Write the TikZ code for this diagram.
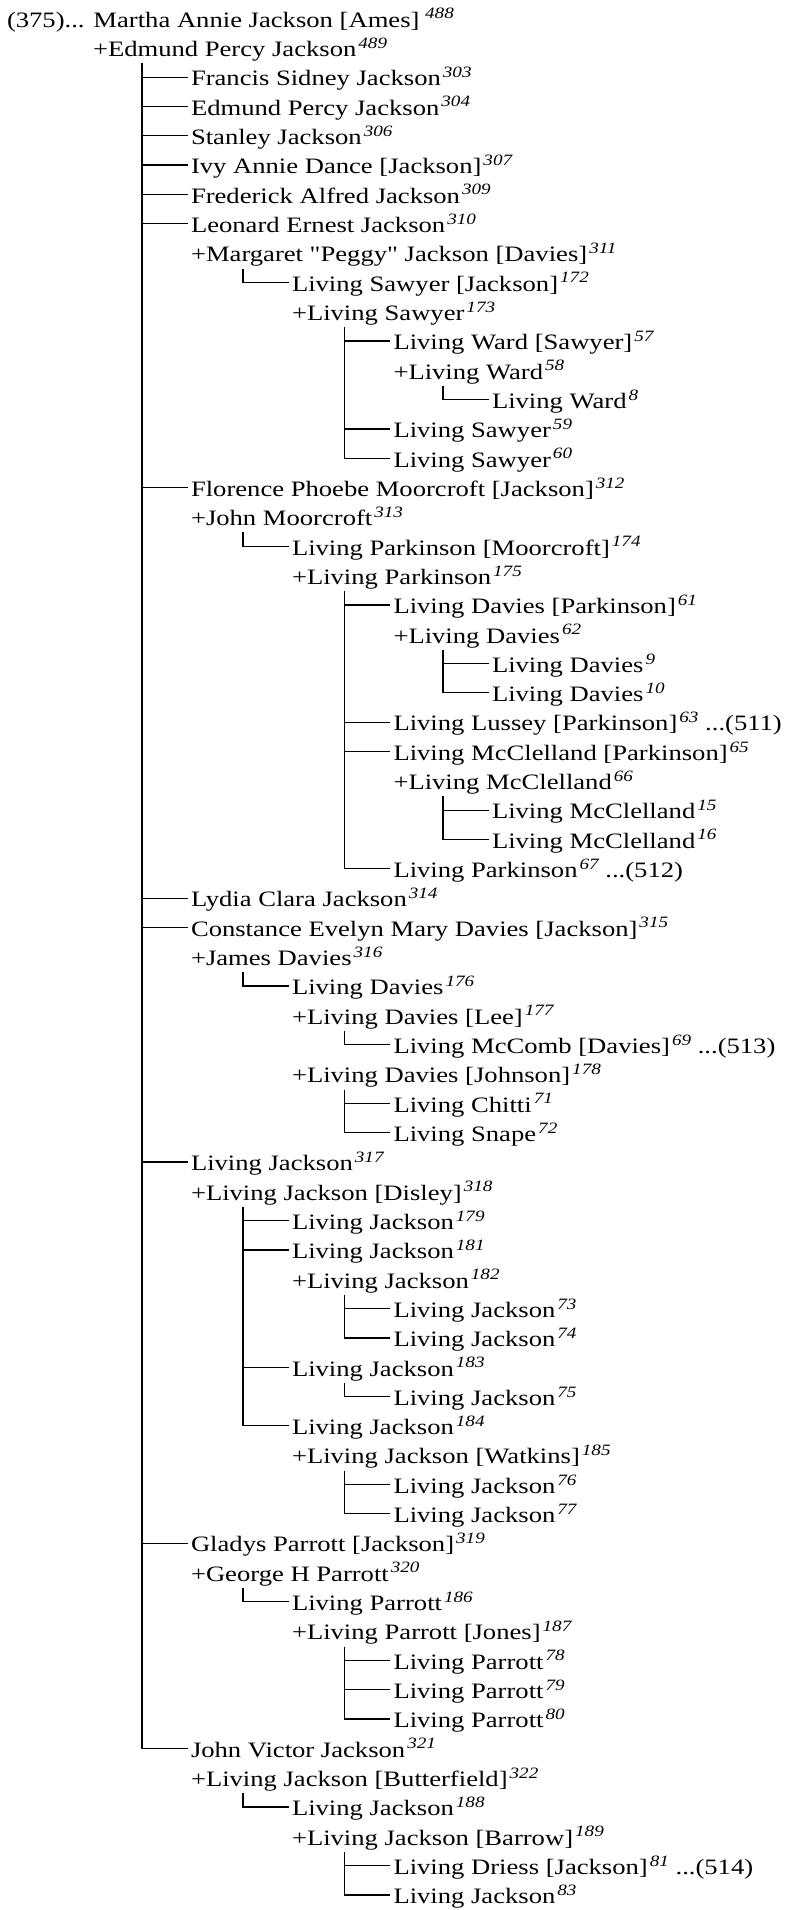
\documentclass[tikz,border=0pt]{standalone}
\usepackage{fontspec}
\setmainfont{Liberation Serif}[FakeStretch=1.21,Ligatures=TeXOff]
\usetikzlibrary{calc}
\newcommand\sr[1]{\kern1pt\raisebox{4.15pt}{\fontsize{7.9}{8}\selectfont\itshape #1}}
\newcommand\famlink[2]{\draw[conn] let \p1=(#1.base west), \p2=(#2.base west) in (\x2-24.5pt,\y1-3.35pt) |- (\x2-1.75pt,\y2+4.4pt);}
\tikzset{
 ln/.style={anchor=base west, inner sep=0pt, outer sep=0pt, font=\fontsize{11}{13}\selectfont},
 conn/.style={line width=0.6pt, black},
}
\begin{document}
\begin{tikzpicture}[x=0.5pt,y=-0.5pt]
\useasboundingbox (0,0) rectangle (784,1910);
\def\B#1{27.3+29.32*(#1-1)}
\def\La{7}\def\Lb{93}\def\Lc{191}\def\Ld{292}\def\Le{393.5}\def\Lf{492}
\node[ln] (n1) at (\La,{\B{1}}) {(375)... Martha Annie Jackson [Ames]\,\sr{488}};
\node[ln] (n2) at (\Lb,{\B{2}}) {+Edmund Percy Jackson\sr{489}};
\node[ln] (n3) at (\Lc,{\B{3}}) {Francis Sidney Jackson\sr{303}};
\node[ln] (n4) at (\Lc,{\B{4}}) {Edmund Percy Jackson\sr{304}};
\node[ln] (n5) at (\Lc,{\B{5}}) {Stanley Jackson\sr{306}};
\node[ln] (n6) at (\Lc,{\B{6}}) {Ivy Annie Dance [Jackson]\sr{307}};
\node[ln] (n7) at (\Lc,{\B{7}}) {Frederick Alfred Jackson\sr{309}};
\node[ln] (n8) at (\Lc,{\B{8}}) {Leonard Ernest Jackson\sr{310}};
\node[ln] (n9) at (\Lc,{\B{9}}) {+Margaret "Peggy" Jackson [Davies]\sr{311}};
\node[ln] (n10) at (\Ld,{\B{10}}) {Living Sawyer [Jackson]\sr{172}};
\node[ln] (n11) at (\Ld,{\B{11}}) {+Living Sawyer\sr{173}};
\node[ln] (n12) at (\Le,{\B{12}}) {Living Ward [Sawyer]\sr{57}};
\node[ln] (n13) at (\Le,{\B{13}}) {+Living Ward\sr{58}};
\node[ln] (n14) at (\Lf,{\B{14}}) {Living Ward\sr{8}};
\node[ln] (n15) at (\Le,{\B{15}}) {Living Sawyer\sr{59}};
\node[ln] (n16) at (\Le,{\B{16}}) {Living Sawyer\sr{60}};
\node[ln] (n17) at (\Lc,{\B{17}}) {Florence Phoebe Moorcroft [Jackson]\sr{312}};
\node[ln] (n18) at (\Lc,{\B{18}}) {+John Moorcroft\sr{313}};
\node[ln] (n19) at (\Ld,{\B{19}}) {Living Parkinson [Moorcroft]\sr{174}};
\node[ln] (n20) at (\Ld,{\B{20}}) {+Living Parkinson\sr{175}};
\node[ln] (n21) at (\Le,{\B{21}}) {Living Davies [Parkinson]\sr{61}};
\node[ln] (n22) at (\Le,{\B{22}}) {+Living Davies\sr{62}};
\node[ln] (n23) at (\Lf,{\B{23}}) {Living Davies\sr{9}};
\node[ln] (n24) at (\Lf,{\B{24}}) {Living Davies\sr{10}};
\node[ln] (n25) at (\Le,{\B{25}}) {Living Lussey [Parkinson]\sr{63} ...(511)};
\node[ln] (n26) at (\Le,{\B{26}}) {Living McClelland [Parkinson]\sr{65}};
\node[ln] (n27) at (\Le,{\B{27}}) {+Living McClelland\sr{66}};
\node[ln] (n28) at (\Lf,{\B{28}}) {Living McClelland\sr{15}};
\node[ln] (n29) at (\Lf,{\B{29}}) {Living McClelland\sr{16}};
\node[ln] (n30) at (\Le,{\B{30}}) {Living Parkinson\sr{67} ...(512)};
\node[ln] (n31) at (\Lc,{\B{31}}) {Lydia Clara Jackson\sr{314}};
\node[ln] (n32) at (\Lc,{\B{32}}) {Constance Evelyn Mary Davies [Jackson]\sr{315}};
\node[ln] (n33) at (\Lc,{\B{33}}) {+James Davies\sr{316}};
\node[ln] (n34) at (\Ld,{\B{34}}) {Living Davies\sr{176}};
\node[ln] (n35) at (\Ld,{\B{35}}) {+Living Davies [Lee]\sr{177}};
\node[ln] (n36) at (\Le,{\B{36}}) {Living McComb [Davies]\sr{69} ...(513)};
\node[ln] (n37) at (\Ld,{\B{37}}) {+Living Davies [Johnson]\sr{178}};
\node[ln] (n38) at (\Le,{\B{38}}) {Living Chitti\sr{71}};
\node[ln] (n39) at (\Le,{\B{39}}) {Living Snape\sr{72}};
\node[ln] (n40) at (\Lc,{\B{40}}) {Living Jackson\sr{317}};
\node[ln] (n41) at (\Lc,{\B{41}}) {+Living Jackson [Disley]\sr{318}};
\node[ln] (n42) at (\Ld,{\B{42}}) {Living Jackson\sr{179}};
\node[ln] (n43) at (\Ld,{\B{43}}) {Living Jackson\sr{181}};
\node[ln] (n44) at (\Ld,{\B{44}}) {+Living Jackson\sr{182}};
\node[ln] (n45) at (\Le,{\B{45}}) {Living Jackson\sr{73}};
\node[ln] (n46) at (\Le,{\B{46}}) {Living Jackson\sr{74}};
\node[ln] (n47) at (\Ld,{\B{47}}) {Living Jackson\sr{183}};
\node[ln] (n48) at (\Le,{\B{48}}) {Living Jackson\sr{75}};
\node[ln] (n49) at (\Ld,{\B{49}}) {Living Jackson\sr{184}};
\node[ln] (n50) at (\Ld,{\B{50}}) {+Living Jackson [Watkins]\sr{185}};
\node[ln] (n51) at (\Le,{\B{51}}) {Living Jackson\sr{76}};
\node[ln] (n52) at (\Le,{\B{52}}) {Living Jackson\sr{77}};
\node[ln] (n53) at (\Lc,{\B{53}}) {Gladys Parrott [Jackson]\sr{319}};
\node[ln] (n54) at (\Lc,{\B{54}}) {+George H Parrott\sr{320}};
\node[ln] (n55) at (\Ld,{\B{55}}) {Living Parrott\sr{186}};
\node[ln] (n56) at (\Ld,{\B{56}}) {+Living Parrott [Jones]\sr{187}};
\node[ln] (n57) at (\Le,{\B{57}}) {Living Parrott\sr{78}};
\node[ln] (n58) at (\Le,{\B{58}}) {Living Parrott\sr{79}};
\node[ln] (n59) at (\Le,{\B{59}}) {Living Parrott\sr{80}};
\node[ln] (n60) at (\Lc,{\B{60}}) {John Victor Jackson\sr{321}};
\node[ln] (n61) at (\Lc,{\B{61}}) {+Living Jackson [Butterfield]\sr{322}};
\node[ln] (n62) at (\Ld,{\B{62}}) {Living Jackson\sr{188}};
\node[ln] (n63) at (\Ld,{\B{63}}) {+Living Jackson [Barrow]\sr{189}};
\node[ln] (n64) at (\Le,{\B{64}}) {Living Driess [Jackson]\sr{81} ...(514)};
\node[ln] (n65) at (\Le,{\B{65}}) {Living Jackson\sr{83}};
% connectors
\foreach \c in {3,4,5,6,7,8,17,31,32,40,53,60} {\famlink{n2}{n\c}}
\famlink{n9}{n10}
\foreach \c in {12,15,16} {\famlink{n11}{n\c}}
\famlink{n13}{n14}
\famlink{n18}{n19}
\foreach \c in {21,25,26,30} {\famlink{n20}{n\c}}
\foreach \c in {23,24} {\famlink{n22}{n\c}}
\foreach \c in {28,29} {\famlink{n27}{n\c}}
\famlink{n33}{n34}
\famlink{n35}{n36}
\foreach \c in {38,39} {\famlink{n37}{n\c}}
\foreach \c in {42,43,47,49} {\famlink{n41}{n\c}}
\foreach \c in {45,46} {\famlink{n44}{n\c}}
\famlink{n47}{n48}
\foreach \c in {51,52} {\famlink{n50}{n\c}}
\famlink{n54}{n55}
\foreach \c in {57,58,59} {\famlink{n56}{n\c}}
\famlink{n61}{n62}
\foreach \c in {64,65} {\famlink{n63}{n\c}}
\end{tikzpicture}
\end{document}
